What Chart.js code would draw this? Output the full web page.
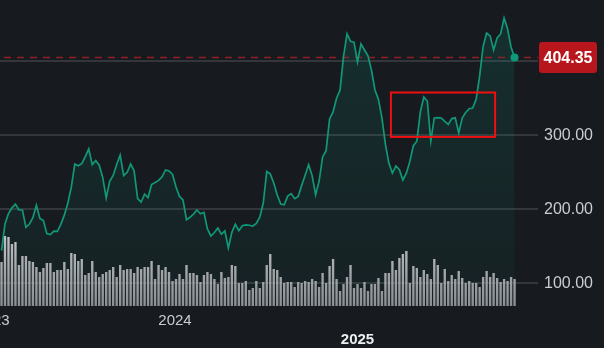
<!DOCTYPE html>
<html><head><meta charset="utf-8">
<script src="https://cdn.jsdelivr.net/npm/chart.js@4"></script>
<style>html,body{margin:0;padding:0;background:#171a1f;overflow:hidden}</style>
</head><body>
<canvas id="c" width="604" height="348"></canvas>
<script>
// ---- data ----
const firstWeek = '2023-01-18';   // first weekly bar
const close = [143.4,179.3,193.4,201.1,206.1,198.2,198.2,174.7,179.3,187.7,
204.7,186.8,184.0,166.3,165.0,169.7,169.3,178.8,191.3,207.3,
229.1,260.3,258.0,260.8,270.4,280.7,259.6,265.0,258.8,242.3,
214.5,236.9,244.9,259.7,272.6,244.9,249.2,260.3,251.1,213.6,
208.9,219.5,215.0,232.7,235.5,238.2,243.1,252.3,250.9,246.2,
229.3,216.5,211.8,185.1,188.4,192.6,198.2,193.2,195.1,172.6,
163.1,167.8,173.9,165.7,169.9,146.9,168.0,179.0,170.3,176.9,
178.0,177.6,176.6,180.1,188.5,207.6,250.3,247.0,234.7,218.5,
206.3,205.3,217.0,220.4,213.5,216.5,231.5,245.3,259.3,244.7,
218.9,237.4,269.9,278.4,321.2,330.8,349.2,360.4,405.7,436.1,
426.1,425.0,398.2,422.6,414.5,406.6,387.2,360.4,347.7,322.6,
287.0,261.3,248.2,257.8,252.7,238.8,248.0,263.9,285.1,291.2,
330.7,350.9,345.5,291.5,322.6,323.0,322.6,318.1,313.8,321.8,
322.8,302.3,322.6,330.0,335.0,335.9,348.0,379.6,419.5,437.4,
433.5,414.5,430.7,436.1,457.7,442.7,418.2,404.35];
const volume = [44,70,69,62,64,41,50,50,45,44,
39,34,38,43,43,34,36,36,44,37,
53,52,45,47,31,33,45,34,29,32,
34,36,39,29,41,36,37,37,33,39,
37,39,39,45,27,41,36,39,34,25,
27,32,27,41,33,33,31,24,31,34,
32,27,22,34,28,29,41,40,23,23,
25,16,18,25,18,
24,41,52,37,36,29,23,24,24,19,
24,23,25,24,27,25,19,33,23,40,
47,27,15,22,29,41,18,22,18,24,
15,22,22,28,15,33,33,45,36,48,
52,55,23,40,38,29,36,32,27,47,
41,23,37,25,31,27,35,28,23,25,
23,23,19,29,35,29,33,28,24,27,
25,29,27];
const yTickValues = [100, 200, 300, 400];
const yearLabels = ['2023', '2024', '2025'];
const yearDates = ['2023-01-01', '2024-01-01', '2025-01-01'];
const lastPrice = 404.35;
const highlightFrom = '2025-03-09', highlightTo = '2025-10-04';
const highlightLow = 297, highlightHigh = 357;

// ---- helpers ----
const DAY = 86400000;
const base = Date.UTC(2023, 0, 1);
const dayNum = s => { const [y, m, d] = s.split('-').map(Number); return (Date.UTC(y, m - 1, d) - base) / DAY; };
const start = dayNum(firstWeek);
const weeks = close.map((_, i) => start + 7 * i);

const linePts = close.map((v, i) => ({ x: weeks[i], y: v }));
const volPts = volume.map((v, i) => ({ x: weeks[i], y: v }));
const FONT = '"Liberation Sans", Arial, sans-serif';

const overlay = {
  id: 'overlay',
  beforeDatasetsDraw(chart) {
    const { ctx, chartArea: ca, scales } = chart;
    const y = scales.y.getPixelForValue(lastPrice);
    ctx.save();
    ctx.strokeStyle = 'rgba(150,32,40,0.95)';
    ctx.lineWidth = 1.6;
    ctx.setLineDash([7, 6]);
    ctx.lineDashOffset = -4;
    ctx.beginPath(); ctx.moveTo(ca.left, y); ctx.lineTo(ca.right, y); ctx.stroke();
    ctx.restore();
  },
  afterDatasetsDraw(chart) {
    const { ctx, chartArea: ca, scales } = chart;
    ctx.save();
    // y tick labels
    ctx.font = '16px ' + FONT;
    ctx.fillStyle = '#c9ccd1';
    ctx.textAlign = 'left'; ctx.textBaseline = 'middle';
    yTickValues.forEach(v => {
      if (Math.abs(v - lastPrice) < 20) return;
      ctx.fillText(v.toFixed(2), ca.right + 6, scales.y.getPixelForValue(v) + 1);
    });
    // highlight box
    const x1 = scales.x.getPixelForValue(dayNum(highlightFrom));
    const x2 = scales.x.getPixelForValue(dayNum(highlightTo));
    const y1 = scales.y.getPixelForValue(highlightHigh);
    const y2 = scales.y.getPixelForValue(highlightLow);
    ctx.strokeStyle = '#f01010';
    ctx.lineWidth = 2;
    ctx.strokeRect(x1, y1, x2 - x1, y2 - y1);
    // price label
    const py = scales.y.getPixelForValue(lastPrice);
    const bx = ca.right + 1, bw = 58, bh = 31;
    ctx.fillStyle = '#b6161c';
    ctx.beginPath();
    ctx.roundRect(bx, py - bh / 2, bw, bh, 3);
    ctx.fill();
    ctx.fillStyle = '#ffffff';
    ctx.font = 'bold 16px ' + FONT;
    ctx.textAlign = 'center';
    ctx.fillText(lastPrice.toFixed(2), bx + bw / 2, py + 1);
    // year labels
    yearLabels.forEach((lab, i) => {
      const x = scales.x.getPixelForValue(dayNum(yearDates[i]));
      const row = i === 2 ? 1 : 0;
      ctx.fillStyle = row ? '#eceef0' : '#c9ccd1';
      ctx.font = (row ? 'bold ' : '') + '15px ' + FONT;
      ctx.fillText(lab, x, ca.bottom + 15 + row * 19);
    });
    ctx.restore();
  }
};

new Chart(document.getElementById('c'), {
  data: {
    datasets: [
      {
        type: 'line', data: linePts, xAxisID: 'x', yAxisID: 'y', order: 0,
        borderColor: '#119878', borderWidth: 1.7, tension: 0,
        pointRadius: c => c.dataIndex === close.length - 1 ? 4 : 0,
        pointBackgroundColor: '#119878', pointBorderWidth: 0,
        fill: 'start',
        backgroundColor: c => {
          const ca = c.chart.chartArea; if (!ca) return 'rgba(19,160,132,0.1)';
          const g = c.chart.ctx.createLinearGradient(0, ca.top, 0, ca.bottom);
          g.addColorStop(0, 'rgba(19,160,132,0.17)');
          g.addColorStop(1, 'rgba(19,160,132,0.05)');
          return g;
        }
      },
      {
        type: 'bar', data: volPts, xAxisID: 'x', yAxisID: 'yv', order: 1,
        barPercentage: 0.68, categoryPercentage: 1, grouped: false,
        backgroundColor: c => {
          const ca = c.chart.chartArea; if (!ca) return '#aaa';
          const g = c.chart.ctx.createLinearGradient(0, ca.bottom - 75, 0, ca.bottom);
          g.addColorStop(0, 'rgba(214,214,216,0.9)');
          g.addColorStop(1, 'rgba(160,162,166,0.85)');
          return g;
        }
      }
    ]
  },
  options: {
    responsive: false, animation: false, devicePixelRatio: 1,
    layout: { autoPadding: false, padding: { left: 0, right: 0, top: 0, bottom: 42 } },
    plugins: { legend: { display: false }, tooltip: { enabled: false }, filler: { drawTime: 'beforeDatasetsDraw' } },
    scales: {
      x: { type: 'linear', display: false, offset: false, grid: { offset: false }, min: 14, max: 1093 },
      y: {
        position: 'right', min: 68.5, max: 482,
        afterBuildTicks: s => { s.ticks = yTickValues.map(v => ({ value: v })); },
        afterFit: s => { s.width = 66; },
        grid: { color: '#33363b', lineWidth: 2, drawTicks: false },
        border: { display: false },
        ticks: { display: false }
      },
      yv: { display: false, min: 0, max: 306 }
    }
  },
  plugins: [overlay]
});
</script>
</body></html>
